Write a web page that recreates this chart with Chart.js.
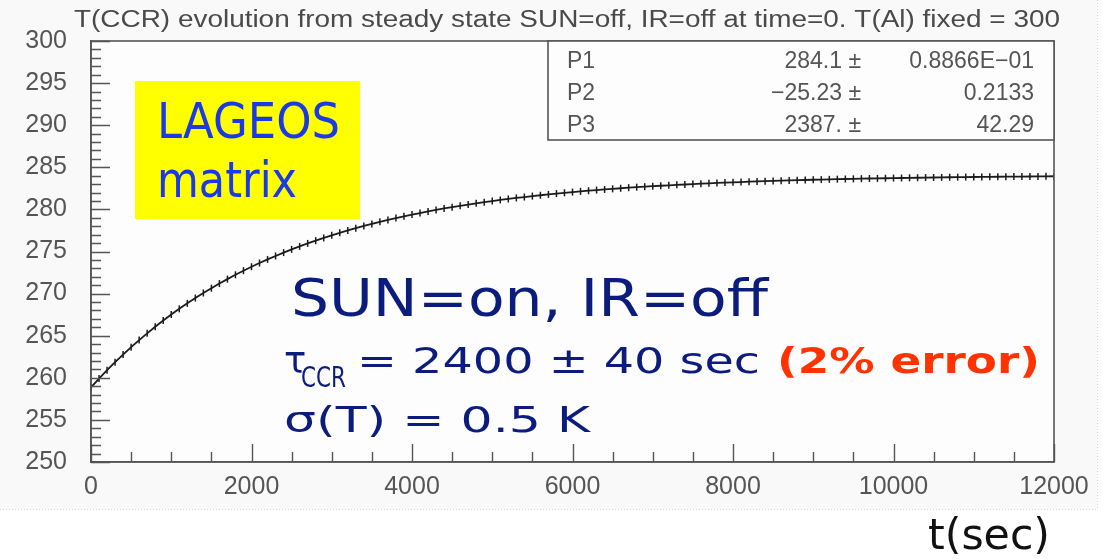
<!DOCTYPE html>
<html>
<head>
<meta charset="utf-8">
<script src="https://cdn.jsdelivr.net/npm/chart.js@4.4.1/dist/chart.umd.min.js"></script>
<style>
  html, body { margin: 0; padding: 0; background: #ffffff; }
  canvas { display: block; }
</style>
</head>
<body>
<canvas id="c" width="1108" height="559"></canvas>
<script>
// ---- data ----
const tSec = [
  0, 100, 200, 300, 400, 500, 600, 700, 800, 900,
  1000, 1100, 1200, 1300, 1400, 1500, 1600, 1700, 1800, 1900,
  2000, 2100, 2200, 2300, 2400, 2500, 2600, 2700, 2800, 2900,
  3000, 3100, 3200, 3300, 3400, 3500, 3600, 3700, 3800, 3900,
  4000, 4100, 4200, 4300, 4400, 4500, 4600, 4700, 4800, 4900,
  5000, 5100, 5200, 5300, 5400, 5500, 5600, 5700, 5800, 5900,
  6000, 6100, 6200, 6300, 6400, 6500, 6600, 6700, 6800, 6900,
  7000, 7100, 7200, 7300, 7400, 7500, 7600, 7700, 7800, 7900,
  8000, 8100, 8200, 8300, 8400, 8500, 8600, 8700, 8800, 8900,
  9000, 9100, 9200, 9300, 9400, 9500, 9600, 9700, 9800, 9900,
  10000, 10100, 10200, 10300, 10400, 10500, 10600, 10700, 10800, 10900,
  11000, 11100, 11200, 11300, 11400, 11500, 11600, 11700, 11800, 11900,
  12000
];
const tempCCR = [
  258.87, 259.91, 260.90, 261.85, 262.76, 263.64, 264.48, 265.28, 266.06, 266.80,
  267.51, 268.19, 268.84, 269.47, 270.07, 270.64, 271.19, 271.72, 272.23, 272.72,
  273.19, 273.63, 274.06, 274.47, 274.87, 275.25, 275.61, 275.96, 276.29, 276.61,
  276.92, 277.22, 277.50, 277.77, 278.03, 278.28, 278.52, 278.75, 278.97, 279.18,
  279.38, 279.57, 279.76, 279.94, 280.11, 280.27, 280.43, 280.58, 280.72, 280.86,
  280.99, 281.12, 281.24, 281.36, 281.47, 281.58, 281.68, 281.78, 281.88, 281.97,
  282.06, 282.14, 282.22, 282.30, 282.37, 282.44, 282.51, 282.58, 282.64, 282.70,
  282.76, 282.81, 282.86, 282.92, 282.96, 283.01, 283.06, 283.10, 283.14, 283.18,
  283.22, 283.25, 283.29, 283.32, 283.35, 283.38, 283.41, 283.44, 283.47, 283.49,
  283.52, 283.54, 283.57, 283.59, 283.61, 283.63, 283.65, 283.67, 283.68, 283.70,
  283.72, 283.73, 283.75, 283.76, 283.78, 283.79, 283.80, 283.82, 283.83, 283.84,
  283.85, 283.86, 283.87, 283.88, 283.89, 283.90, 283.90, 283.91, 283.92, 283.93,
  283.94
];
const xRange = [0, 12000];
const yRange = [250, 300];
const xMajorStep = 2000, xMinorStep = 500;
const yMajorStep = 5, yMinorStep = 1;

const titleText = "T(CCR) evolution from steady state SUN=off, IR=off at time=0. T(Al) fixed = 300";
const statNames = ["P1", "P2", "P3"];
const statValues = ["284.1 \u00b1", "\u221225.23 \u00b1", "2387. \u00b1"];
const statErrors = ["0.8866E\u221201", "0.2133", "42.29"];
const boxLines = ["LAGEOS", "matrix"];
const noteLine1 = "SUN=on, IR=off";
const noteTau = "\u03c4";
const noteTauSub = "CCR";
const noteTauRest = "= 2400 \u00b1 40 sec";
const noteTauErr = "(2% error)";
const noteSigma = "\u03c3(T) = 0.5 K";
const xAxisTitle = "t(sec)";

// ---- drawing helpers ----
const AXIS = '#555555';
function fitText(ctx, text, x, y, w, font, color, align) {
  ctx.save();
  ctx.font = font;
  ctx.fillStyle = color;
  ctx.textBaseline = 'alphabetic';
  ctx.textAlign = 'left';
  const m = ctx.measureText(text).width;
  const sx = w ? w / m : 1;
  const x0 = align === 'right' ? x - m * sx : x;
  ctx.translate(x0, y);
  ctx.scale(sx, 1);
  ctx.fillText(text, 0, 0);
  ctx.restore();
}

const decor = {
  id: 'decor',
  beforeDraw(chart) {
    const ctx = chart.ctx;
    ctx.save();
    ctx.fillStyle = '#ffffff';
    ctx.fillRect(0, 0, chart.width, chart.height);
    ctx.fillStyle = '#f9f9f9';
    ctx.fillRect(0, 0, 1097, 509);
    ctx.strokeStyle = '#d6d6d6';
    ctx.lineWidth = 1;
    ctx.setLineDash([1, 2]);
    ctx.beginPath();
    ctx.moveTo(0, 509.5); ctx.lineTo(1097, 509.5);
    ctx.moveTo(1097.5, 0); ctx.lineTo(1097.5, 509);
    ctx.stroke();
    ctx.setLineDash([]);
    const a = chart.chartArea;
    ctx.fillStyle = '#fdfdfd';
    ctx.fillRect(a.left, a.top, a.right - a.left, a.bottom - a.top);
    ctx.restore();
  },
  afterDraw(chart) {
    const ctx = chart.ctx;
    const a = chart.chartArea;
    const xs = chart.scales.x, ys = chart.scales.y;
    ctx.save();
    ctx.strokeStyle = AXIS;
    ctx.lineWidth = 1.6;
    ctx.strokeRect(a.left, a.top, a.right - a.left, a.bottom - a.top);
    ctx.lineWidth = 1.4;
    ctx.beginPath();
    for (let v = yRange[0]; v <= yRange[1] + 1e-9; v += yMinorStep) {
      const py = Math.round(ys.getPixelForValue(v)) + 0.5;
      const major = Math.abs(v / yMajorStep - Math.round(v / yMajorStep)) < 1e-6;
      ctx.moveTo(a.left, py);
      ctx.lineTo(a.left + (major ? 19 : 10), py);
    }
    for (let v = xRange[0]; v <= xRange[1] + 1e-9; v += xMinorStep) {
      const px = Math.round(xs.getPixelForValue(v)) + 0.5;
      const major = Math.abs(v / xMajorStep - Math.round(v / xMajorStep)) < 1e-6;
      ctx.moveTo(px, a.bottom);
      ctx.lineTo(px, a.bottom - (major ? 18 : 10));
    }
    ctx.stroke();

    fitText(ctx, titleText, 74, 27, 986, '23px "Liberation Sans"', '#4a4a4a');

    ctx.fillStyle = '#fdfdfd';
    ctx.fillRect(548, a.top, a.right - 548, 140 - a.top);
    ctx.strokeStyle = AXIS;
    ctx.lineWidth = 1.6;
    ctx.strokeRect(548, a.top, a.right - 548, 140 - a.top);
    const statBase = [68, 100, 132];
    for (let i = 0; i < statNames.length; i++) {
      fitText(ctx, statNames[i], 567, statBase[i], 0, '23px "Liberation Sans"', '#555');
      fitText(ctx, statValues[i], 861, statBase[i], 0, '23px "Liberation Sans"', '#555', 'right');
      fitText(ctx, statErrors[i], 1034, statBase[i], 0, '23px "Liberation Sans"', '#555', 'right');
    }

    ctx.fillStyle = '#ffff00';
    ctx.fillRect(135, 81, 225, 138);
    fitText(ctx, boxLines[0], 157, 138, 183, '50px "DejaVu Sans"', '#1a3ae8');
    fitText(ctx, boxLines[1], 157, 197, 140, '50px "DejaVu Sans"', '#1a3ae8');

    const NAVY = '#0c1c7c';
    fitText(ctx, noteLine1, 291, 316, 477, '52px "DejaVu Sans"', NAVY);
    fitText(ctx, noteTau, 284, 373, 0, '37px "DejaVu Sans"', NAVY);
    fitText(ctx, noteTauSub, 301, 387, 45, '29px "DejaVu Sans"', NAVY);
    fitText(ctx, noteTauRest, 357, 373, 403, '36px "DejaVu Sans"', NAVY);
    fitText(ctx, noteTauErr, 777, 373, 263, 'bold 36px "DejaVu Sans"', '#ff3300');
    fitText(ctx, noteSigma, 284, 432, 306, '36px "DejaVu Sans"', NAVY);

    fitText(ctx, xAxisTitle, 928, 549, 122, '42px "DejaVu Sans"', '#111');
    ctx.restore();
  }
};

const tickFont = { family: '"Liberation Sans", Arial, sans-serif', size: 25 };

new Chart(document.getElementById('c'), {
  type: 'scatter',
  data: {
    datasets: [{
      data: tSec.map((t, i) => ({ x: t, y: tempCCR[i] })),
      showLine: true,
      borderColor: '#1c1c1c',
      borderWidth: 1.8,
      pointStyle: 'line',
      rotation: 90,
      pointRadius: 3.5,
      pointBorderWidth: 1.5,
      pointBorderColor: '#1c1c1c',
      pointBackgroundColor: '#1c1c1c',
      tension: 0
    }]
  },
  options: {
    responsive: false,
    animation: false,
    devicePixelRatio: 1,
    layout: { padding: { left: 0, right: 54, top: 41, bottom: 0 } },
    plugins: { legend: { display: false }, tooltip: { enabled: false }, title: { display: false } },
    scales: {
      x: {
        type: 'linear', min: xRange[0], max: xRange[1],
        ticks: { stepSize: xMajorStep, font: tickFont, color: '#555', padding: 10, maxRotation: 0, autoSkip: false, includeBounds: true,
                 callback: (v) => String(v) },
        grid: { display: false, drawTicks: false },
        border: { display: true, color: AXIS, width: 1.6 },
        afterFit(s) { s.height = 97; }
      },
      y: {
        type: 'linear', min: yRange[0], max: yRange[1],
        ticks: { stepSize: yMajorStep, font: tickFont, color: '#555', padding: 24, autoSkip: false,
                 callback: (v) => String(v) },
        grid: { display: false, drawTicks: false },
        border: { display: true, color: AXIS, width: 1.6 },
        afterFit(s) { s.width = 91; }
      }
    }
  },
  plugins: [decor]
});
</script>
</body>
</html>
